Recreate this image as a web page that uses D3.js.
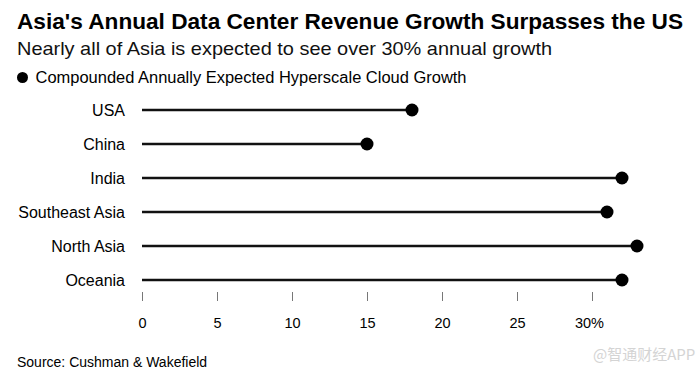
<!DOCTYPE html>
<html>
<head>
  <meta charset="utf-8">
  <title>Asia's Annual Data Center Revenue Growth</title>
  <script src="https://cdnjs.cloudflare.com/ajax/libs/d3/7.8.5/d3.min.js"></script>
  <style>
    body { margin: 0; background: #fff; }
    svg text { font-family: "Liberation Sans", Arial, Helvetica, sans-serif; fill: #000; }
  </style>
</head>
<body>
<script>
  // chart data
  var regions = ["USA", "China", "India", "Southeast Asia", "North Asia", "Oceania"];
  var growth = [18, 15, 32, 31, 33, 32];
  var tickValues = [0, 5, 10, 15, 20, 25, 30];
  var tickLabels = ["0", "5", "10", "15", "20", "25", "30%"];

  var width = 699, height = 376;

  var svg = d3.select("body").append("svg")
      .attr("width", width)
      .attr("height", height);

  // stretch/squeeze a text to a width
  function fit(sel, w) {
    var len = sel.node().getComputedTextLength();
    if (Math.abs(len - w) / w > 0.02) {
      sel.attr("textLength", w).attr("lengthAdjust", "spacingAndGlyphs");
    }
    return sel;
  }

  // header
  fit(svg.append("text")
      .attr("x", 17).attr("y", 28.5)
      .style("font-size", "21.5px").style("font-weight", "bold")
      .text("Asia's Annual Data Center Revenue Growth Surpasses the US"), 666);

  fit(svg.append("text")
      .attr("x", 17).attr("y", 54.5)
      .style("font-size", "18.5px")
      .style("fill", "#111")
      .text("Nearly all of Asia is expected to see over 30% annual growth"), 535);

  // legend
  svg.append("circle")
      .attr("cx", 22.5).attr("cy", 77.5).attr("r", 5.5)
      .attr("fill", "#000");
  fit(svg.append("text")
      .attr("x", 35.5).attr("y", 83)
      .style("font-size", "16px")
      .text("Compounded Annually Expected Hyperscale Cloud Growth"), 431);

  // scales
  var x = d3.scaleLinear().domain([0, 30]).range([142, 592]);
  var y = d3.scalePoint().domain(regions).range([110, 280]);

  // category labels
  svg.append("g").selectAll("text")
    .data(regions)
    .join("text")
      .attr("x", 125)
      .attr("y", function(d) { return y(d); })
      .attr("dy", "0.36em")
      .attr("text-anchor", "end")
      .style("font-size", "16px")
      .text(function(d) { return d; });

  // stems and dots
  var rows = regions.map(function(r, i) { return { region: r, value: growth[i] }; });

  svg.append("g").selectAll("line")
    .data(rows)
    .join("line")
      .attr("x1", x(0))
      .attr("x2", function(d) { return x(d.value); })
      .attr("y1", function(d) { return y(d.region); })
      .attr("y2", function(d) { return y(d.region); })
      .attr("stroke", "#111")
      .attr("stroke-width", 2.5);

  svg.append("g").selectAll("circle")
    .data(rows)
    .join("circle")
      .attr("cx", function(d) { return x(d.value); })
      .attr("cy", function(d) { return y(d.region); })
      .attr("r", 6.5)
      .attr("fill", "#000");

  // x axis: short ticks, no domain line
  var axis = d3.axisBottom(x)
      .tickValues(tickValues)
      .tickSize(9)
      .tickPadding(17)
      .tickFormat(function(d, i) { return tickLabels[i]; });

  var gx = svg.append("g")
      .attr("transform", "translate(0,292)")
      .call(axis);
  gx.select(".domain").remove();
  gx.selectAll(".tick line").attr("stroke", "#777");
  gx.selectAll(".tick text")
      .style("font-size", "14.5px")
      .style("font-family", "\"Liberation Sans\", Arial, sans-serif")
      .attr("fill", "#000");
  // "30%" sits a little left so its number lines up with the tick
  gx.selectAll(".tick text").filter(function(d) { return d === 30; })
      .attr("dx", "-3");

  // footer
  svg.append("text")
      .attr("x", 17).attr("y", 366.5)
      .style("font-size", "14px")
      .text("Source: Cushman & Wakefield");

  svg.append("text")
      .attr("x", 593).attr("y", 360)
      .style("font-size", "15px")
      .style("font-family", "\"Noto Sans CJK SC\", \"Liberation Sans\", sans-serif")
      .style("fill", "#d4d4d4")
      .text("@智通财经APP");
</script>
</body>
</html>
